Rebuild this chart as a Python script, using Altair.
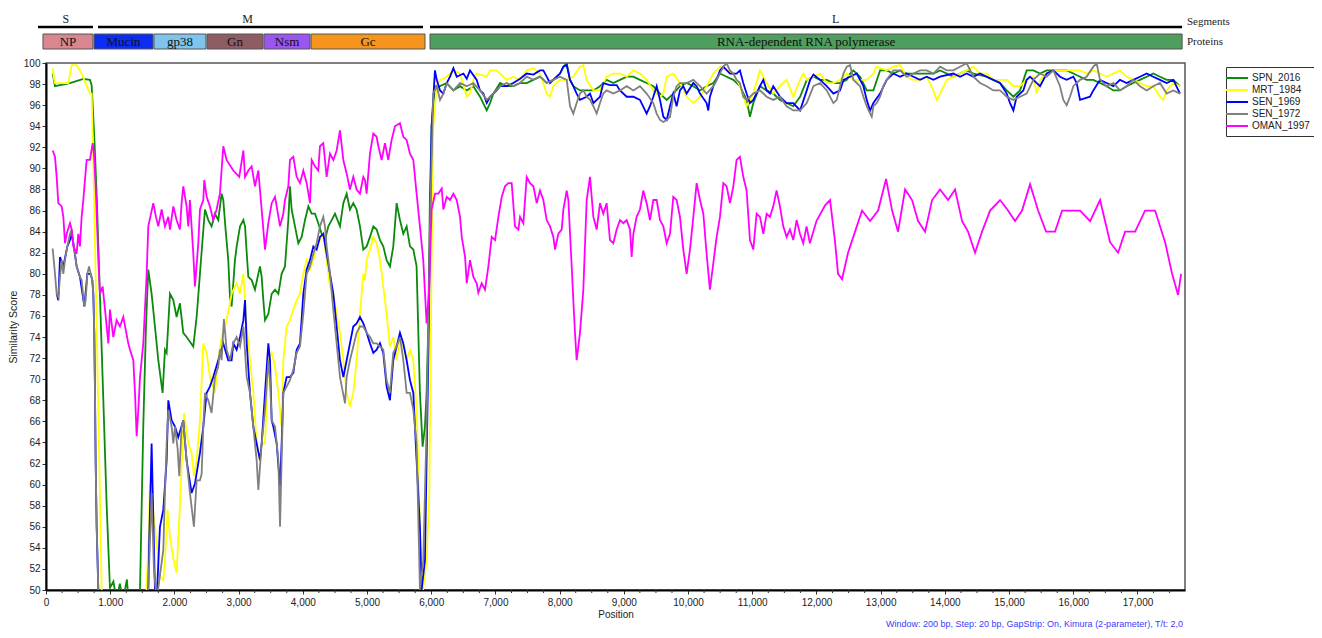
import altair as alt
import pandas as pd

SERIES = ["SPN_2016", "MRT_1984", "SEN_1969", "SEN_1972", "OMAN_1997"]
COLORS = ["#0b8a0b", "#ffff00", "#0000ff", "#808080", "#ff00ff"]

SPN_2016 = [
    (104, 99.0), (140, 97.8), (218, 97.9), (374, 98.1), (581, 98.5), (685, 98.4), (711, 97.9), (752, 93.0),
    (789, 87.6), (840, 78.0), (893, 68.0), (945, 58.0), (996, 50.2), (1050, 50.8), (1100, 49.0), (1150, 50.6),
    (1200, 49.0), (1260, 51.0), (1300, 48.0), (1400, 47.0), (1464, 50.0), (1515, 65.5), (1557, 75.0), (1593, 80.4),
    (1645, 78.1), (1697, 75.0), (1749, 71.8), (1816, 68.7), (1853, 72.8), (1879, 72.5), (1931, 78.1), (1983, 77.5),
    (2034, 75.9), (2086, 77.2), (2138, 74.4), (2190, 74.0), (2294, 73.1), (2346, 75.9), (2398, 80.0), (2434, 82.9),
    (2476, 86.1), (2528, 85.1), (2579, 84.5), (2631, 85.7), (2683, 85.1), (2735, 87.6), (2761, 87.0), (2797, 84.2),
    (2839, 81.3), (2865, 77.8), (2891, 76.9), (2943, 81.3), (2970, 82.6), (3022, 84.5), (3074, 85.1), (3100, 84.5),
    (3126, 82.0), (3151, 79.7), (3203, 79.4), (3255, 78.5), (3307, 80.0), (3333, 80.7), (3359, 79.7), (3385, 77.5),
    (3411, 75.6), (3463, 76.2), (3515, 78.1), (3567, 78.5), (3619, 78.1), (3670, 80.0), (3722, 80.7), (3774, 85.1),
    (3800, 88.3), (3826, 86.1), (3878, 84.5), (3930, 82.9), (3982, 83.5), (4034, 85.1), (4086, 86.4), (4138, 85.7),
    (4189, 85.7), (4241, 84.8), (4293, 83.8), (4345, 83.2), (4397, 84.5), (4449, 85.1), (4501, 85.7), (4579, 84.5),
    (4631, 86.7), (4683, 87.6), (4734, 86.1), (4786, 86.7), (4838, 86.1), (4890, 84.5), (4942, 82.3), (4994, 82.6),
    (5046, 83.5), (5098, 84.5), (5150, 84.2), (5202, 83.2), (5253, 82.6), (5305, 81.3), (5357, 80.7), (5409, 82.6),
    (5461, 86.7), (5513, 85.1), (5565, 83.8), (5617, 84.5), (5669, 82.6), (5721, 82.3), (5772, 80.7), (5824, 68.7),
    (5866, 63.6), (5902, 65.5), (5928, 68.7), (5954, 75.0), (5980, 87.6), (6006, 94.0), (6058, 97.8),
    (6137, 97.8), (6241, 98.1), (6345, 97.4), (6449, 97.8), (6553, 97.4), (6656, 97.8), (6760, 96.8), (6864, 95.5),
    (6916, 96.2), (6968, 97.1), (7072, 98.1), (7175, 97.8), (7279, 97.8), (7383, 98.1), (7487, 98.1), (7591, 98.4),
    (7694, 98.7), (7798, 98.1), (7902, 98.4), (8006, 99.0), (8058, 99.65), (8110, 99.97), (8162, 98.4), (8213, 97.8),
    (8317, 97.4), (8421, 97.4), (8525, 97.4), (8629, 97.8), (8732, 98.4), (8836, 98.1), (8940, 98.4), (9044, 98.7),
    (9148, 98.7), (9251, 98.4), (9355, 98.1), (9459, 97.8), (9563, 97.1), (9667, 96.5), (9770, 97.1), (9874, 97.8),
    (9978, 98.1), (10082, 97.8), (10186, 97.4), (10289, 97.8), (10393, 98.1), (10497, 99.0), (10601, 98.7),
    (10705, 98.4), (10808, 97.8), (10912, 96.5), (10964, 94.9), (11016, 96.2), (11120, 97.8), (11224, 97.4),
    (11327, 97.1), (11431, 96.5), (11535, 96.2), (11639, 95.9), (11745, 96.8), (11849, 98.4), (11953, 98.7),
    (12056, 98.4), (12160, 98.4), (12264, 98.1), (12368, 98.1), (12472, 98.4), (12524, 99.0), (12575, 99.3),
    (12679, 98.7), (12783, 97.4), (12887, 97.4), (12991, 99.3), (13094, 99.3), (13198, 99.0), (13302, 99.3),
    (13406, 99.0), (13613, 99.0), (13821, 99.0), (13925, 99.3), (14029, 99.0), (14132, 98.7), (14236, 99.0),
    (14340, 99.3), (14444, 99.0), (14651, 98.7), (14755, 98.4), (14859, 98.1), (14963, 97.4), (15067, 96.8),
    (15170, 97.4), (15274, 99.3), (15378, 99.3), (15482, 99.0), (15586, 99.3), (15897, 99.3), (16001, 99.0),
    (16105, 98.7), (16208, 98.4), (16312, 98.4), (16416, 98.1), (16520, 97.8), (16624, 97.4), (16727, 97.4),
    (16831, 97.8), (16935, 98.1), (17039, 98.4), (17143, 98.7), (17246, 99.0), (17350, 98.7), (17454, 98.4),
    (17558, 98.4), (17662, 97.8),
]

MRT_1984 = [
    (104, 99.5), (125, 98.5), (140, 98.1), (348, 98.1), (400, 99.8), (477, 99.8), (555, 99.0), (685, 97.1),
    (711, 97.1), (737, 90.8), (789, 75.0), (830, 62.0), (867, 50.0), (950, 45.0), (1300, 45.0), (1560, 49.5),
    (1600, 55.0), (1619, 60.1), (1697, 56.0), (1775, 51.3), (1827, 50.9), (1853, 52.8), (1894, 57.6), (1931, 55.0),
    (1983, 53.0), (2034, 51.6), (2086, 58.0), (2149, 66.8), (2216, 63.9), (2268, 63.0), (2304, 60.8), (2346, 62.3),
    (2398, 66.1), (2450, 73.4), (2502, 72.5), (2553, 70.2), (2631, 68.7), (2683, 71.8), (2735, 74.0), (2813, 75.6),
    (2891, 78.1), (2969, 79.1), (3022, 78.1), (3074, 80.0), (3126, 75.0), (3177, 71.8), (3229, 68.7), (3281, 63.9),
    (3333, 62.3), (3359, 63.9), (3411, 63.9), (3463, 71.8), (3515, 72.5), (3567, 71.2), (3619, 68.7), (3670, 65.5),
    (3696, 71.8), (3748, 75.0), (3800, 75.6), (3852, 76.6), (3904, 77.5), (3956, 78.1), (4008, 80.0), (4060, 81.3),
    (4112, 80.4), (4164, 81.3), (4215, 82.6), (4267, 83.2), (4319, 83.8), (4371, 81.3), (4423, 78.8), (4475, 78.1),
    (4527, 76.2), (4579, 74.4), (4631, 71.8), (4683, 68.7), (4734, 67.4), (4786, 68.7), (4838, 71.8), (4890, 76.2),
    (4942, 80.0), (4968, 79.4), (4994, 81.3), (5046, 82.3), (5098, 83.5), (5150, 82.9), (5202, 81.3), (5253, 78.8),
    (5305, 76.2), (5357, 73.1), (5409, 74.0), (5461, 71.8), (5513, 74.0), (5565, 73.1), (5617, 71.8), (5669, 72.8),
    (5721, 71.8), (5772, 67.1), (5824, 56.0), (5866, 49.7), (5928, 52.8), (5970, 59.2), (6006, 81.3), (6032, 94.0),
    (6084, 97.8), (6137, 98.4), (6241, 98.7), (6345, 99.3), (6449, 99.0), (6553, 96.8), (6604, 97.1), (6656, 98.4),
    (6708, 99.0), (6864, 98.7), (6916, 99.3), (7020, 99.3), (7124, 98.7), (7175, 98.4), (7279, 98.7), (7383, 98.4),
    (7487, 99.3), (7591, 99.5), (7694, 99.0), (7798, 97.1), (7850, 96.8), (7902, 97.8), (8006, 98.4), (8110, 98.4),
    (8213, 98.7), (8317, 99.65), (8369, 99.8), (8421, 98.4), (8525, 97.4), (8629, 97.4), (8732, 98.7), (8836, 99.0),
    (8940, 99.0), (9044, 98.7), (9148, 99.3), (9251, 99.0), (9355, 98.4), (9459, 97.4), (9563, 96.8), (9615, 97.1),
    (9667, 98.7), (9770, 99.0), (9874, 98.1), (9978, 96.8), (10082, 96.2), (10186, 96.8), (10289, 97.8),
    (10393, 99.0), (10497, 99.65), (10601, 99.3), (10705, 99.0), (10808, 97.8), (10912, 95.9), (11016, 97.1),
    (11120, 99.3), (11224, 98.1), (11327, 97.1), (11431, 97.8), (11535, 98.4), (11639, 96.8), (11745, 98.4),
    (11797, 99.0), (11849, 98.4), (11953, 98.7), (12056, 99.0), (12160, 98.1), (12264, 98.1), (12368, 98.4),
    (12472, 99.0), (12575, 98.4), (12783, 98.4), (12887, 99.0), (12939, 99.65), (13094, 99.3), (13198, 99.65),
    (13302, 99.8), (13406, 98.7), (13510, 98.4), (13613, 98.4), (13717, 98.7), (13821, 97.4), (13873, 96.5),
    (13925, 97.1), (14029, 98.4), (14132, 98.7), (14236, 99.0), (14340, 99.3), (14444, 99.65), (14548, 99.0),
    (14651, 99.0), (14755, 98.4), (14963, 98.4), (15067, 97.8), (15170, 97.8), (15274, 98.4), (15378, 98.7),
    (15430, 97.1), (15482, 98.4), (15586, 99.0), (15690, 99.3), (16105, 99.3), (16208, 99.0), (16312, 99.3),
    (16416, 99.0), (16520, 98.7), (16624, 99.0), (16727, 99.3), (16831, 98.7), (16935, 98.4), (17039, 98.1),
    (17143, 97.8), (17246, 97.8), (17350, 96.8), (17402, 96.5), (17454, 97.4), (17558, 98.1), (17662, 97.8),
]

SEN_1969 = [
    (166, 78.1), (192, 77.5), (218, 81.6), (270, 80.7), (332, 82.6), (374, 83.2), (400, 83.8), (426, 82.9),
    (477, 80.7), (529, 79.7), (597, 76.9), (644, 80.0), (695, 80.0), (721, 79.4), (737, 78.1), (752, 74.4),
    (763, 68.7), (773, 62.3), (789, 56.0), (815, 50.0), (850, 45.0), (1550, 45.0), (1593, 50.0), (1609, 55.0),
    (1645, 63.9), (1697, 50.0), (1723, 49.0), (1775, 56.0), (1827, 57.6), (1879, 62.3), (1905, 68.0), (1957, 66.1),
    (2009, 65.5), (2060, 64.5), (2138, 66.1), (2190, 62.3), (2268, 59.2), (2320, 60.1), (2398, 63.0), (2450, 65.5),
    (2502, 68.7), (2553, 69.3), (2605, 70.2), (2683, 71.8), (2761, 73.4), (2839, 71.8), (2891, 71.8), (2918, 73.4),
    (2969, 72.8), (3022, 74.0), (3074, 75.6), (3100, 77.5), (3126, 73.4), (3177, 68.7), (3229, 65.5), (3281, 63.9),
    (3333, 62.3), (3359, 63.9), (3411, 68.7), (3463, 73.4), (3489, 71.8), (3515, 66.1), (3541, 65.5), (3593, 63.9),
    (3645, 59.8), (3670, 63.9), (3696, 68.7), (3748, 70.2), (3800, 70.2), (3852, 70.6), (3904, 72.8), (3956, 73.4),
    (4008, 78.1), (4060, 80.4), (4112, 81.3), (4164, 82.6), (4215, 82.3), (4267, 83.5), (4319, 83.8), (4371, 81.9),
    (4423, 80.0), (4475, 78.1), (4527, 75.0), (4579, 71.8), (4631, 70.2), (4683, 71.8), (4734, 73.4), (4786, 75.0),
    (4838, 75.3), (4890, 75.9), (4942, 75.3), (4994, 74.4), (5046, 73.4), (5098, 72.5), (5150, 72.8), (5202, 73.4),
    (5253, 72.5), (5305, 69.3), (5357, 68.0), (5409, 71.8), (5461, 73.1), (5513, 74.4), (5565, 73.4), (5617, 71.8),
    (5669, 69.9), (5721, 68.7), (5772, 62.3), (5824, 56.0), (5850, 50.0), (5902, 52.8), (5954, 71.8), (6006, 94.0),
    (6058, 99.3), (6086, 98.4), (6137, 97.4), (6189, 97.1), (6241, 98.1), (6293, 98.7), (6345, 99.5), (6397, 98.7),
    (6501, 99.0), (6553, 98.5), (6604, 99.3), (6708, 98.4), (6760, 97.4), (6812, 97.1), (6864, 96.2), (6916, 96.8),
    (7020, 97.4), (7072, 97.8), (7175, 97.8), (7279, 98.1), (7383, 98.5), (7487, 99.0), (7591, 98.9), (7694, 99.3),
    (7746, 99.3), (7798, 98.7), (7850, 98.1), (7954, 98.7), (8006, 99.0), (8058, 99.65), (8110, 99.8), (8162, 98.4),
    (8213, 97.8), (8265, 97.1), (8317, 96.5), (8421, 96.8), (8473, 97.1), (8525, 96.2), (8629, 96.8), (8680, 98.1),
    (8784, 97.9), (8888, 97.9), (8940, 97.4), (9044, 96.8), (9148, 96.8), (9251, 96.5), (9355, 95.2), (9407, 95.9),
    (9459, 96.8), (9511, 97.8), (9563, 96.5), (9615, 94.9), (9667, 94.6), (9719, 95.9), (9770, 97.1), (9822, 95.9),
    (9874, 97.4), (9926, 97.8), (9978, 97.1), (10082, 98.1), (10134, 97.8), (10186, 97.1), (10289, 96.2),
    (10315, 95.5), (10341, 96.8), (10393, 97.8), (10445, 98.4), (10497, 99.3), (10549, 99.65), (10653, 99.0),
    (10756, 99.0), (10808, 99.3), (10860, 98.1), (10912, 97.1), (10964, 96.2), (11016, 96.5), (11120, 97.8),
    (11172, 98.4), (11224, 97.4), (11276, 97.1), (11327, 97.8), (11431, 96.8), (11535, 96.2), (11639, 96.2),
    (11745, 95.5), (11849, 97.4), (11901, 98.4), (11953, 98.9), (12056, 98.4), (12160, 97.8), (12264, 97.1),
    (12368, 97.4), (12420, 98.4), (12524, 98.7), (12627, 99.0), (12731, 97.8), (12783, 96.5), (12835, 95.5),
    (12887, 96.2), (12991, 97.1), (13094, 98.4), (13198, 99.0), (13302, 98.7), (13406, 99.0), (13510, 98.7),
    (13613, 98.4), (13717, 98.7), (13821, 98.4), (13925, 98.7), (14132, 99.0), (14236, 98.7), (14340, 99.0),
    (14444, 98.7), (14548, 99.0), (14651, 98.7), (14755, 98.4), (14859, 98.1), (14963, 97.1), (15015, 96.2),
    (15067, 95.5), (15118, 96.8), (15222, 97.4), (15274, 98.4), (15326, 98.7), (15482, 97.8), (15586, 99.0),
    (15690, 99.3), (15793, 98.7), (15897, 98.4), (16001, 98.7), (16053, 98.1), (16105, 96.5), (16260, 96.8),
    (16312, 97.4), (16416, 98.4), (16520, 98.1), (16624, 97.8), (16727, 98.4), (16831, 98.1), (16935, 98.4),
    (17039, 98.7), (17143, 99.0), (17246, 98.7), (17350, 98.4), (17454, 98.1), (17558, 98.4), (17662, 97.1),
]

SEN_1972 = [
    (104, 82.4), (140, 80.0), (166, 78.1), (192, 77.8), (218, 79.7), (244, 81.3), (270, 80.0), (296, 81.3),
    (332, 82.6), (374, 83.8), (400, 84.2), (426, 82.9), (452, 81.9), (477, 80.7), (529, 79.7), (555, 79.4),
    (597, 76.9), (618, 77.5), (644, 80.0), (670, 80.7), (695, 80.0), (721, 79.4), (737, 78.1), (752, 74.4),
    (763, 68.7), (773, 62.3), (789, 56.0), (815, 50.0), (850, 45.0), (1550, 45.0), (1593, 50.0), (1645, 59.2),
    (1681, 52.0), (1723, 49.0), (1827, 53.8), (1853, 59.2), (1879, 63.9), (1905, 67.1), (1957, 65.5), (1983, 63.9),
    (2009, 65.5), (2050, 63.4), (2076, 60.8), (2112, 65.5), (2138, 66.1), (2190, 62.3), (2242, 59.2), (2304, 56.0),
    (2346, 60.4), (2398, 60.4), (2424, 61.0), (2450, 65.5), (2476, 68.7), (2528, 68.0), (2579, 66.8), (2631, 70.2),
    (2683, 71.2), (2709, 72.8), (2735, 71.8), (2771, 75.7), (2813, 72.8), (2865, 71.8), (2917, 73.4), (2969, 74.0),
    (3022, 73.1), (3074, 75.0), (3126, 70.2), (3177, 68.7), (3229, 65.5), (3281, 62.3), (3307, 59.5), (3333, 61.7),
    (3359, 63.9), (3411, 67.1), (3463, 71.8), (3489, 69.9), (3515, 66.1), (3567, 65.5), (3619, 62.3), (3645, 56.0),
    (3670, 62.3), (3696, 68.7), (3748, 69.3), (3800, 69.9), (3852, 70.9), (3904, 72.5), (3956, 73.1), (4008, 76.2),
    (4060, 80.0), (4112, 80.7), (4164, 81.9), (4215, 82.9), (4267, 84.5), (4319, 85.4), (4345, 84.5), (4371, 82.6),
    (4423, 80.0), (4475, 76.6), (4527, 73.4), (4579, 70.2), (4657, 67.7), (4683, 70.2), (4734, 71.8), (4786, 73.1),
    (4838, 74.4), (4890, 75.0), (4942, 75.0), (4994, 74.4), (5046, 74.0), (5098, 73.4), (5150, 73.4), (5202, 73.1),
    (5253, 72.8), (5305, 69.9), (5357, 68.7), (5409, 72.5), (5461, 73.1), (5513, 74.0), (5565, 71.8), (5617, 68.7),
    (5669, 68.7), (5721, 67.1), (5772, 63.9), (5824, 50.0), (5876, 52.8), (5928, 65.5), (5980, 84.5), (6032, 97.1),
    (6086, 97.8), (6137, 96.5), (6189, 97.1), (6241, 98.1), (6345, 97.4), (6449, 98.1), (6553, 97.8), (6656, 98.1),
    (6760, 97.4), (6864, 96.5), (6968, 97.1), (7072, 97.8), (7175, 98.1), (7279, 97.8), (7383, 98.1), (7487, 98.7),
    (7591, 98.4), (7694, 98.7), (7798, 98.1), (7902, 98.4), (8006, 98.7), (8110, 98.4), (8162, 95.9), (8213, 95.2),
    (8265, 96.2), (8317, 97.1), (8369, 97.4), (8421, 96.8), (8473, 96.5), (8525, 95.9), (8577, 95.2), (8629, 96.2),
    (8680, 97.1), (8732, 97.4), (8836, 97.1), (8940, 97.4), (9044, 97.8), (9148, 97.4), (9251, 97.8), (9355, 97.1),
    (9459, 96.2), (9511, 95.2), (9563, 94.6), (9615, 94.4), (9667, 94.6), (9719, 94.9), (9770, 96.8), (9822, 97.8),
    (9874, 98.1), (9978, 98.1), (10082, 98.4), (10186, 97.8), (10289, 97.1), (10393, 97.8), (10497, 99.0),
    (10549, 99.65), (10601, 99.97), (10653, 99.3), (10705, 99.0), (10756, 98.4), (10808, 98.1), (10860, 96.8),
    (10912, 96.5), (11016, 97.1), (11120, 97.4), (11224, 96.8), (11327, 96.5), (11431, 96.8), (11535, 95.9),
    (11639, 95.5), (11745, 95.5), (11849, 96.2), (11953, 97.8), (12056, 98.1), (12160, 97.4), (12264, 96.2),
    (12316, 96.5), (12368, 97.8), (12420, 99.0), (12472, 99.65), (12524, 99.8), (12575, 98.4), (12627, 98.1),
    (12679, 97.8), (12731, 96.8), (12783, 95.9), (12835, 95.2), (12861, 94.9), (12887, 95.9), (12939, 96.2),
    (12991, 96.8), (13042, 97.8), (13094, 98.4), (13198, 99.3), (13302, 99.3), (13406, 98.7), (13510, 99.0),
    (13613, 99.3), (13717, 99.3), (13821, 99.0), (13925, 99.65), (14029, 99.3), (14132, 99.3), (14236, 99.65),
    (14340, 99.97), (14444, 98.7), (14548, 98.1), (14651, 97.8), (14755, 97.4), (14859, 97.4), (14963, 96.8),
    (15067, 96.5), (15170, 96.8), (15274, 97.1), (15378, 98.4), (15482, 99.0), (15586, 98.7), (15690, 99.3),
    (15793, 97.8), (15845, 96.5), (15897, 96.0), (15949, 96.8), (16001, 97.8), (16105, 98.4), (16208, 98.7),
    (16312, 99.65), (16364, 99.97), (16416, 98.4), (16520, 97.8), (16624, 98.1), (16727, 97.4), (16831, 97.8),
    (16935, 98.4), (17039, 97.8), (17143, 97.4), (17246, 97.8), (17350, 98.1), (17454, 97.1), (17558, 97.4),
    (17662, 97.1),
]

OMAN_1997 = [
    (104, 91.7), (140, 91.1), (166, 89.2), (192, 86.7), (244, 86.4), (270, 85.4), (296, 82.9), (322, 83.8),
    (374, 84.8), (400, 84.2), (426, 82.6), (477, 81.9), (503, 83.8), (529, 82.6), (555, 85.4), (581, 87.0),
    (633, 90.8), (685, 90.8), (727, 92.4), (747, 91.4), (778, 87.6), (815, 81.3), (840, 78.1), (882, 78.8),
    (919, 76.6), (945, 75.0), (971, 73.4), (996, 76.6), (1048, 74.0), (1100, 75.6), (1152, 75.0), (1204, 75.9),
    (1282, 73.4), (1308, 72.8), (1360, 71.8), (1386, 68.7), (1412, 64.6), (1438, 67.1), (1464, 70.2), (1515, 73.4),
    (1568, 80.0), (1593, 84.5), (1671, 86.7), (1713, 85.4), (1749, 84.5), (1801, 86.1), (1853, 84.5), (1905, 85.4),
    (1931, 84.2), (1983, 86.4), (2034, 85.1), (2086, 84.2), (2112, 86.7), (2138, 88.3), (2190, 86.4), (2216, 84.5),
    (2242, 87.0), (2294, 81.9), (2320, 78.8), (2372, 82.9), (2398, 86.1), (2450, 87.0), (2465, 88.9), (2502, 87.3),
    (2553, 86.4), (2605, 85.1), (2657, 86.1), (2709, 87.6), (2761, 92.1), (2813, 90.8), (2917, 89.8), (3010, 89.2),
    (3074, 91.7), (3100, 89.2), (3151, 89.8), (3203, 90.2), (3255, 88.3), (3307, 89.8), (3359, 86.1), (3411, 82.3),
    (3463, 84.8), (3515, 86.7), (3567, 87.3), (3593, 86.4), (3645, 84.5), (3696, 85.7), (3722, 87.0), (3774, 88.3),
    (3800, 90.8), (3852, 91.1), (3904, 89.2), (3956, 88.6), (4008, 89.8), (4060, 88.6), (4112, 86.7), (4138, 90.8),
    (4189, 90.2), (4241, 89.8), (4267, 92.1), (4319, 92.4), (4345, 90.8), (4371, 89.2), (4423, 91.4), (4475, 90.8),
    (4527, 91.7), (4579, 93.6), (4631, 90.8), (4683, 89.5), (4734, 88.0), (4786, 89.2), (4838, 88.0), (4890, 87.6),
    (4942, 89.2), (4968, 88.9), (4994, 87.6), (5046, 91.4), (5098, 93.3), (5150, 93.0), (5176, 92.1), (5228, 90.8),
    (5279, 92.4), (5331, 90.8), (5383, 92.7), (5435, 94.0), (5513, 94.3), (5565, 93.0), (5617, 92.7), (5669, 91.4),
    (5721, 90.8), (5772, 87.6), (5824, 84.5), (5876, 81.3), (5928, 75.3), (5964, 78.1), (6006, 86.1),
    (6060, 87.6), (6111, 87.6), (6163, 88.1), (6189, 86.1), (6241, 87.3), (6293, 87.0), (6345, 87.6), (6397, 87.0),
    (6449, 85.4), (6475, 83.5), (6527, 81.6), (6553, 79.1), (6604, 81.3), (6656, 79.7), (6708, 79.1), (6734, 78.2),
    (6786, 79.1), (6838, 78.5), (6890, 80.7), (6942, 83.5), (6994, 83.2), (7046, 85.4), (7098, 87.3), (7149, 88.3),
    (7201, 88.6), (7253, 88.6), (7305, 84.5), (7357, 84.2), (7383, 85.4), (7435, 84.8), (7487, 89.2), (7539, 88.6),
    (7591, 88.3), (7643, 86.7), (7694, 87.9), (7746, 87.0), (7798, 85.1), (7850, 84.5), (7902, 83.5), (7928, 82.3),
    (7980, 83.8), (8032, 84.2), (8058, 86.1), (8110, 87.9), (8136, 87.0), (8162, 83.8), (8188, 80.7), (8213, 77.5),
    (8239, 74.4), (8265, 71.8), (8317, 74.4), (8369, 78.5), (8421, 87.0), (8473, 89.2), (8525, 85.4), (8577, 84.2),
    (8629, 86.7), (8680, 85.7), (8732, 86.7), (8784, 83.2), (8836, 82.9), (8888, 84.2), (8940, 85.1), (8992, 84.8),
    (9044, 85.1), (9096, 84.2), (9122, 81.6), (9148, 83.8), (9199, 85.4), (9251, 86.1), (9303, 87.9), (9355, 86.7),
    (9407, 85.1), (9459, 87.0), (9511, 87.0), (9563, 85.1), (9615, 84.5), (9667, 82.9), (9719, 83.8), (9770, 87.3),
    (9822, 87.0), (9874, 85.4), (9926, 82.3), (9978, 80.0), (10030, 82.3), (10082, 85.4), (10134, 88.6),
    (10186, 87.0), (10238, 85.7), (10289, 81.9), (10341, 78.5), (10393, 81.0), (10445, 83.5), (10497, 85.4),
    (10549, 88.6), (10601, 88.3), (10653, 86.7), (10705, 88.3), (10756, 90.8), (10808, 91.1), (10860, 89.2),
    (10912, 87.9), (10964, 83.2), (11016, 82.3), (11068, 85.7), (11120, 85.4), (11172, 83.8), (11224, 85.7),
    (11276, 85.4), (11327, 86.4), (11379, 87.9), (11431, 86.4), (11483, 84.5), (11535, 83.5), (11587, 84.2),
    (11639, 83.2), (11691, 85.1), (11743, 83.8), (11794, 82.9), (11846, 84.5), (11898, 82.9), (12000, 85.0),
    (12134, 86.5), (12212, 87.0), (12290, 83.0), (12336, 80.0), (12399, 79.5), (12492, 82.0), (12601, 84.0),
    (12710, 86.0), (12835, 85.0), (12960, 86.0), (13084, 89.0), (13178, 86.0), (13271, 84.0), (13380, 88.0),
    (13489, 87.0), (13583, 85.0), (13692, 84.0), (13801, 87.0), (13925, 88.0), (14050, 87.0), (14159, 88.0),
    (14268, 85.0), (14361, 84.0), (14470, 82.0), (14579, 84.0), (14704, 86.0), (14860, 87.0), (14984, 86.0),
    (15093, 85.0), (15202, 86.0), (15327, 88.5), (15452, 86.0), (15576, 84.0), (15716, 84.0), (15826, 86.0),
    (15950, 86.0), (16106, 86.0), (16262, 85.0), (16417, 87.0), (16573, 83.0), (16698, 82.0), (16807, 84.0),
    (16963, 84.0), (17118, 86.0), (17274, 86.0), (17430, 83.0), (17539, 80.0), (17632, 78.0), (17679, 80.0),
]

# genome annotation (positions in bp)
PROTEINS = ["NP", "Mucin", "gp38", "Gn", "Nsm", "Gc", "RNA-dependent RNA polymerase"]
PROT_START = [-47, 748, 1682, 2508, 3396, 4128, 5981]
PROT_END = [732, 1667, 2492, 3380, 4112, 5903, 17695]
PROT_COLORS = ["#d9868f", "#0b2ef2", "#7fc4ec", "#8e5c63", "#9b55f0", "#f7941d", "#4e9e5e"]

SEGMENTS = ["S", "M", "L"]
SEG_START = [-125, 810, 5981]
SEG_END = [732, 5872, 17695]
SEG_LABEL_POS = [311, 3140, 12300]

CAPTION = "Window: 200 bp, Step: 20 bp, GapStrip: On, Kimura (2-parameter), T/t: 2,0"

W, H = 1139, 527
XMAX = 17740
MINOR_STEP = 250
MINOR_TICKS = [p for p in range(MINOR_STEP, XMAX, MINOR_STEP) if p % 1000 != 0]

rows = []
for name, pts in zip(SERIES, [SPN_2016, MRT_1984, SEN_1969, SEN_1972, OMAN_1997]):
    for p, v in pts:
        rows.append({"series": name, "pos": p, "val": v})
df = pd.DataFrame(rows)

prot_df = pd.DataFrame({"name": PROTEINS, "start": PROT_START, "end": PROT_END, "fill": PROT_COLORS})
seg_df = pd.DataFrame({"name": SEGMENTS, "start": SEG_START, "end": SEG_END, "lab": SEG_LABEL_POS})
minor_df = pd.DataFrame({"pos": MINOR_TICKS})

XS = alt.Scale(domain=[0, XMAX], nice=False, zero=False)
YS = alt.Scale(domain=[50, 100], nice=False, zero=False)

x_axis = alt.Axis(
    values=list(range(0, 18000, 1000)),
    labelExpr="datum.value == 1000 ? '1.000' : datum.value == 2000 ? '2.000' : format(datum.value, ',')",
    title="Position", grid=False, tickSize=4, labelFlush=False,
    labelFont="Liberation Sans", labelFontSize=10, labelColor="#222",
    titleFont="Liberation Sans", titleFontSize=10, titleFontWeight="normal", titleColor="#222",
    domainColor="#000", domainWidth=2, tickColor="#333", labelPadding=3, titlePadding=2,
)
y_axis = alt.Axis(
    values=list(range(50, 101, 2)), title="Similarity Score", grid=False, tickSize=4,
    labelFlush=False, labelFont="Liberation Sans", labelFontSize=10, labelColor="#222",
    titleFont="Liberation Sans", titleFontSize=10.5, titleFontWeight="normal", titleColor="#222",
    domainColor="#000", domainWidth=2, tickColor="#333", labelPadding=2, titlePadding=5,
)


def X(field):
    return alt.X(field, scale=XS, axis=x_axis)


lines = alt.Chart(df).mark_line(strokeWidth=1.8, clip=True).encode(
    x=X("pos:Q"),
    y=alt.Y("val:Q", scale=YS, axis=y_axis),
    color=alt.Color(
        "series:N",
        scale=alt.Scale(domain=SERIES, range=COLORS),
        sort=SERIES,
        legend=alt.Legend(
            title=None, orient="none", legendX=1180, legendY=4,
            strokeColor="#333", fillColor="white", padding=5,
            symbolType="M-2.2,0H2.2", symbolSize=100, symbolStrokeWidth=2,
            labelFont="Liberation Sans", labelFontSize=10, labelColor="#222",
            rowPadding=1, labelOffset=9,
        ),
    ),
)

minor = alt.Chart(minor_df).mark_rule(color="#333", strokeWidth=1).encode(
    x=X("pos:Q"),
    y=alt.value(H),
    y2=alt.value(H + 3),
)

prot_rect = alt.Chart(prot_df).mark_rect(stroke="#555", strokeWidth=1).encode(
    x=X("start:Q"),
    x2="end:Q",
    y=alt.value(-29),
    y2=alt.value(-14),
    fill=alt.Fill("fill:N", scale=None),
)
prot_text = alt.Chart(prot_df).transform_calculate(mid="(datum.start + datum.end) / 2").mark_text(
    font="Liberation Serif", fontSize=13, color="#111", baseline="middle", align="center"
).encode(
    x=X("mid:Q"),
    y=alt.value(-21),
    text="name:N",
)
seg_rule = alt.Chart(seg_df).mark_rule(strokeWidth=2.5, color="#000").encode(
    x=X("start:Q"),
    x2="end:Q",
    y=alt.value(-36),
)
seg_text = alt.Chart(seg_df).mark_text(
    font="Liberation Serif", fontSize=12, color="#222", baseline="middle", align="center"
).encode(
    x=X("lab:Q"),
    y=alt.value(-44),
    text="name:N",
)
side_seg = alt.Chart(pd.DataFrame({"t": ["Segments"]})).mark_text(
    font="Liberation Serif", fontSize=11, color="#222", baseline="middle", align="left"
).encode(x=alt.value(W + 2), y=alt.value(-41), text="t:N")
side_prot = alt.Chart(pd.DataFrame({"t": ["Proteins"]})).mark_text(
    font="Liberation Serif", fontSize=11, color="#222", baseline="middle", align="left"
).encode(x=alt.value(W + 2), y=alt.value(-21), text="t:N")
cap_text = alt.Chart(pd.DataFrame({"t": [CAPTION]})).mark_text(
    font="Liberation Sans", fontSize=9, color="#3a3aff", baseline="middle", align="right"
).encode(
    x=alt.value(W - 2),
    y=alt.value(H + 34),
    text="t:N",
)

chart = alt.layer(
    lines, minor, prot_rect, prot_text, seg_rule, seg_text, side_seg, side_prot, cap_text
).properties(
    width=W, height=H,
    autosize=alt.AutoSizeParams(type="none"),
    padding={"left": 38, "top": 55, "right": 129, "bottom": 40},
).configure_view(stroke="#555", strokeWidth=1.5).configure_axis(grid=False)

chart.save("out.html", embed_options={"renderer": "svg", "actions": False})
